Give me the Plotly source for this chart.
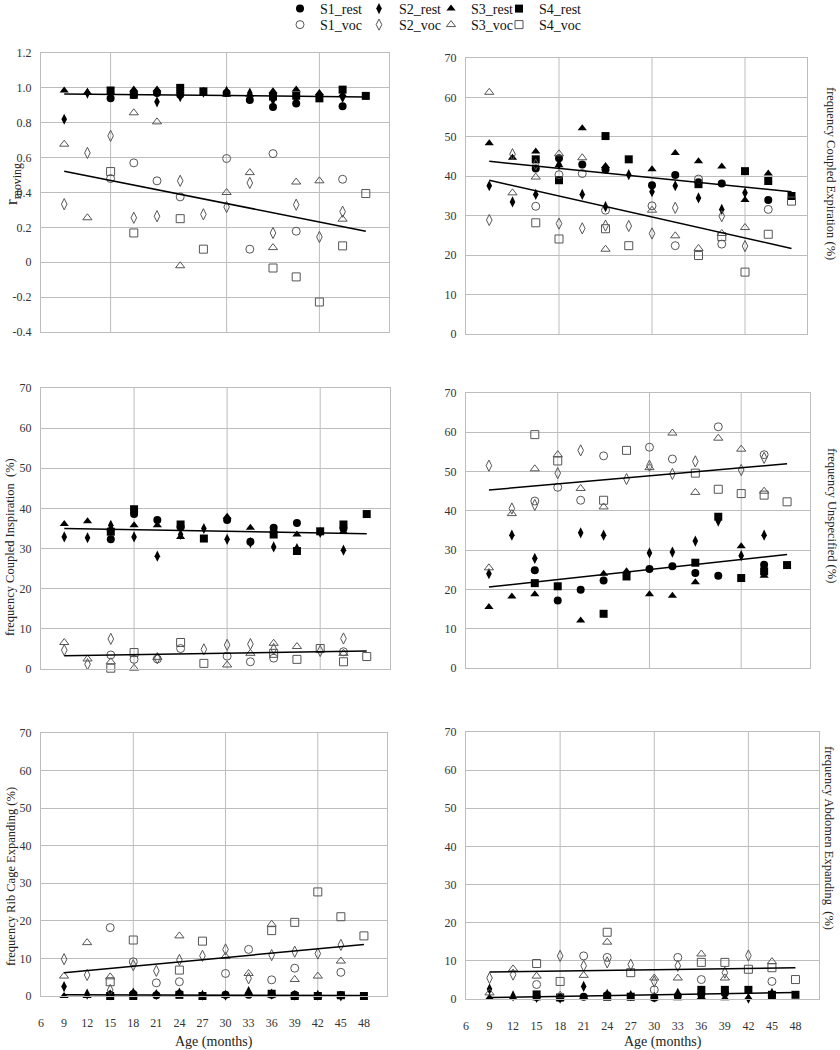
import plotly.graph_objects as go
from plotly.subplots import make_subplots

N = None
AGES = [9, 12, 15, 18, 21, 24, 27, 30, 33, 36, 39, 42, 45, 48]
AGE_TICKS = [6, 9, 12, 15, 18, 21, 24, 27, 30, 33, 36, 39, 42, 45, 48]
TREND_AGES = [9, 48]
SUBJECTS = ["S1", "S2", "S3", "S4"]

# r moving (top left)
rmov_s1_rest = [N, N, .94, .96, .97, .96, N, .97, .93, .89, .91, N, .895, N]
rmov_s2_rest = [.82, .97, .96, .97, .92, .95, .975, .98, .97, .93, .94, .95, .945, N]
rmov_s3_rest = [.985, .975, .97, .99, .99, .98, N, .96, .96, .98, .99, .97, .96, N]
rmov_s4_rest = [N, N, .985, .96, N, 1.0, .98, N, N, .95, .955, .94, .99, .954]
rmov_s1_voc = [N, N, .48, .57, .467, .375, N, .595, .075, .623, .178, N, .476, N]
rmov_s2_voc = [.333, .627, .725, .255, .264, .467, .275, .317, .455, .168, .33, .145, .29, N]
rmov_s3_voc = [.677, .255, N, .857, .805, -.02, N, .40, .514, .084, .46, .467, .247, N]
rmov_s4_voc = [N, N, .52, .168, N, .25, .075, N, N, -.033, -.084, -.228, .094, .394]
rmov_trend_rest = [.965, .948]
rmov_trend_voc = [.522, .178]

# coupled expiration (top right)
exp_s1_rest = [N, N, 42.0, 44.6, 43.0, 41.7, N, 37.7, 40.3, 38.5, 38.2, N, 34.0, N]
exp_s2_rest = [37.6, 33.5, 35.4, 43.0, 35.4, 32.3, 40.4, 36.1, 37.6, 34.5, 31.6, 35.8, N, N]
exp_s3_rest = [48.4, 44.7, 46.3, 42.8, 52.2, 42.6, N, 41.8, 45.9, 43.8, 42.5, 34.0, 40.7, N]
exp_s4_rest = [N, N, 44.3, 39.0, N, 50.2, 44.3, N, N, 38.0, N, 41.3, 38.8, 35.0]
exp_s1_voc = [N, N, 32.4, 40.4, 40.7, 31.4, N, 32.5, 22.4, 39.3, 22.8, N, 31.6, N]
exp_s2_voc = [28.9, 45.6, 43.0, 28.0, 26.8, 27.5, 27.4, 25.5, 32.0, N, 29.9, 22.3, N, N]
exp_s3_voc = [61.3, 35.8, 39.8, 45.7, 44.7, 21.5, N, 31.4, 24.9, 21.7, 25.5, 27.0, N, N]
exp_s4_voc = [N, N, 28.2, 24.1, N, 26.7, 22.4, N, N, 19.9, 24.7, 15.7, 25.3, 33.7]
exp_trend_rest = [43.8, 36.1]
exp_trend_voc = [39.0, 21.7]

# coupled inspiration (middle left)
insp_s1_rest = [N, N, 32.3, 38.6, 37.1, 35.4, N, 37.1, 31.7, 35.2, 36.4, N, 35.0, N]
insp_s2_rest = [32.9, 32.7, 35.8, 32.9, 28.1, 33.5, 35.0, 32.3, 31.5, 30.4, 30.0, 34.0, 29.6, N]
insp_s3_rest = [36.1, 36.8, 35.0, 35.8, 35.8, 32.9, N, 37.9, 35.2, 34.5, 33.5, N, 34.2, N]
insp_s4_rest = [N, N, 34.2, 39.8, N, 36.0, 32.5, N, N, 33.5, 29.4, 34.3, 36.0, 38.6]
insp_s1_voc = [N, N, 3.5, 2.4, 2.5, 5.1, N, 3.2, 1.8, 2.7, N, N, 4.3, N]
insp_s2_voc = [4.7, 1.2, 7.5, N, 2.7, N, 4.9, 6.0, 6.2, 5.0, N, 4.5, 7.6, N]
insp_s3_voc = [6.6, 2.5, 1.8, 0.2, 2.9, N, N, 1.0, 3.9, 6.4, 5.6, N, 3.9, N]
insp_s4_voc = [N, N, 0.2, 4.1, N, 6.6, 1.4, N, N, 3.9, 2.4, 5.1, 1.8, 3.1]
insp_trend_rest = [35.0, 33.7]
insp_trend_voc = [3.3, 4.5]

# unspecified (middle right)
unsp_s1_rest = [N, N, 24.9, 17.2, 19.9, 22.3, N, 25.2, 25.9, 24.2, 23.5, N, 26.3, N]
unsp_s2_rest = [24.0, 33.8, 27.9, N, 34.4, 33.8, N, 29.3, 29.5, 32.3, 37.4, 28.6, 33.8, N]
unsp_s3_rest = [15.5, 18.2, 18.8, N, 12.1, 24.0, 24.6, 18.8, 18.4, 21.8, N, 31.0, 23.5, N]
unsp_s4_rest = [N, N, 21.6, 20.8, N, 13.8, 23.3, N, N, 26.8, 38.5, 22.9, 24.6, 26.2]
unsp_s1_voc = [N, N, 42.5, 46.0, 42.7, 54.0, N, 56.2, 53.2, N, 61.4, N, 54.3, N]
unsp_s2_voc = [51.5, 40.6, 41.5, 49.6, 55.4, N, 48.1, 51.5, 49.4, 52.6, N, 50.4, 53.5, N]
unsp_s3_voc = [25.5, 39.3, 50.7, 54.3, 45.7, 41.0, N, 51.0, 59.8, 44.7, 58.5, 55.7, 45.0, N]
unsp_s4_voc = [N, N, 59.4, 52.7, N, 42.7, 55.4, N, N, 49.6, 45.5, 44.4, 44.0, 42.3]
unsp_trend_rest = [20.6, 28.9]
unsp_trend_voc = [45.3, 52.0]

# rib cage expanding (bottom left)
rib_s1_rest = [N, N, 0.3, 0.5, 0.2, 0.5, N, 0.3, 0.3, 0.3, 0.3, N, 0.2, N]
rib_s2_rest = [2.5, 0.5, 0.3, 0.8, 0.4, 0.8, 0.2, 0.2, 1.2, 0.5, 0.2, 0.2, 0.0, N]
rib_s3_rest = [0.0, 0.0, 0.5, 0.2, 0.5, 0.3, N, 0.0, 0.8, 0.2, 0.0, 0.0, 0.0, N]
rib_s4_rest = [N, N, 0.0, 0.0, N, 0.3, 0.0, N, N, 0.6, 0.0, 0.0, 0.2, 0.0]
rib_s1_voc = [N, N, 18.2, 9.1, 3.5, 3.8, N, 6.0, 12.4, 4.3, 7.4, N, 6.3, N]
rib_s2_voc = [9.8, 5.6, 1.6, 8.2, 6.7, 9.6, 10.7, 12.4, 4.7, 10.9, 11.8, 11.3, 13.6, N]
rib_s3_voc = [5.3, 14.2, 5.1, N, N, 16.0, N, 10.5, 6.0, 19.1, 4.4, 5.3, 9.3, N]
rib_s4_voc = [N, N, 3.8, 14.9, N, 6.9, 14.6, N, N, 17.4, 19.6, 27.7, 21.1, 16.0]
rib_trend_rest = [0.3, 0.1]
rib_trend_voc = [6.2, 13.7]

# abdomen expanding (bottom right)
abd_s1_rest = [N, N, 0.5, 0.3, 0.6, 1.0, N, 0.3, 0.8, 1.2, 1.5, N, 1.0, N]
abd_s2_rest = [2.6, 0.8, 0.4, 0.2, 3.3, 1.2, 0.9, 0.5, 1.5, 2.0, 1.8, 0.2, 1.5, N]
abd_s3_rest = [0.3, 0.3, 0.2, 0.2, 0.5, 0.4, N, 0.2, 0.2, 0.5, 0.2, 0.3, 0.3, N]
abd_s4_rest = [N, N, 1.2, 0.4, N, 0.6, 0.6, N, N, 2.4, 2.4, 2.4, 1.1, 1.1]
abd_s1_voc = [N, N, 3.8, N, 11.3, 10.9, N, 2.4, 10.9, 5.1, N, N, 4.6, N]
abd_s2_voc = [5.5, 6.4, N, 11.3, 8.7, 9.6, 9.0, 4.6, 8.7, N, 6.9, 11.4, N, N]
abd_s3_voc = [1.6, 7.9, 6.0, 1.0, 6.2, 14.9, N, 5.5, 5.5, 11.8, 5.5, N, 9.8, N]
abd_s4_voc = [N, N, 9.3, 4.6, N, 17.5, 6.9, N, N, 9.6, 9.6, 7.8, 8.2, 5.1]
abd_trend_rest = [0.4, 1.7]
abd_trend_voc = [7.1, 8.2]

FONT = "Liberation Serif"
GRID = "#bdbdbd"
FILLED = ["circle", "diamond-tall", "triangle-up", "square"]
OPEN = ["circle-open", "diamond-tall-open", "triangle-up-open", "square-open"]

panels = [
    dict(row=1, col=1,
         rest=[rmov_s1_rest, rmov_s2_rest, rmov_s3_rest, rmov_s4_rest],
         voc=[rmov_s1_voc, rmov_s2_voc, rmov_s3_voc, rmov_s4_voc],
         trend=(rmov_trend_rest, rmov_trend_voc), grid=[15, 30, 42],
         dom=([41, 389], [53, 332]), xmax=51),
    dict(row=1, col=2,
         rest=[exp_s1_rest, exp_s2_rest, exp_s3_rest, exp_s4_rest],
         voc=[exp_s1_voc, exp_s2_voc, exp_s3_voc, exp_s4_voc],
         trend=(exp_trend_rest, exp_trend_voc), grid=[18, 30, 42],
         dom=([466, 807], [58, 334]), xmax=50),
    dict(row=2, col=1,
         rest=[insp_s1_rest, insp_s2_rest, insp_s3_rest, insp_s4_rest],
         voc=[insp_s1_voc, insp_s2_voc, insp_s3_voc, insp_s4_voc],
         trend=(insp_trend_rest, insp_trend_voc), grid=[18, 30, 42],
         dom=([41, 390], [388, 669]), xmax=51),
    dict(row=2, col=2,
         rest=[unsp_s1_rest, unsp_s2_rest, unsp_s3_rest, unsp_s4_rest],
         voc=[unsp_s1_voc, unsp_s2_voc, unsp_s3_voc, unsp_s4_voc],
         trend=(unsp_trend_rest, unsp_trend_voc), grid=[18, 30, 42],
         dom=([466, 810], [393, 668]), xmax=51),
    dict(row=3, col=1,
         rest=[rib_s1_rest, rib_s2_rest, rib_s3_rest, rib_s4_rest],
         voc=[rib_s1_voc, rib_s2_voc, rib_s3_voc, rib_s4_voc],
         trend=(rib_trend_rest, rib_trend_voc), grid=[18, 30, 42],
         dom=([41, 387], [733, 996]), xmax=51),
    dict(row=3, col=2,
         rest=[abd_s1_rest, abd_s2_rest, abd_s3_rest, abd_s4_rest],
         voc=[abd_s1_voc, abd_s2_voc, abd_s3_voc, abd_s4_voc],
         trend=(abd_trend_rest, abd_trend_voc), grid=[18, 30, 42],
         dom=([466, 819], [732, 999]), xmax=51),
]

W, H = 840, 1050
# one small legend per entry so the 4x2 key can be laid out like the original
LEGEND_COL_PX = [280, 359, 431, 499]
LEGEND_ROW_TOP_PX = [-7, 9]


def legend_id(row, k):
    n = row * 4 + k + 1
    return "legend" if n == 1 else "legend%d" % n


fig = make_subplots(rows=3, cols=2)

for i, p in enumerate(panels):
    r, c = p["row"], p["col"]
    first = i == 0
    for k, s in enumerate(SUBJECTS):
        fig.add_trace(go.Scatter(
            x=AGES, y=p["rest"][k], mode="markers", name=s + "_rest",
            marker=dict(symbol=FILLED[k], size=8, color="black"),
            showlegend=first, legend=legend_id(0, k), cliponaxis=False,
        ), row=r, col=c)
    for k, s in enumerate(SUBJECTS):
        fig.add_trace(go.Scatter(
            x=AGES, y=p["voc"][k], mode="markers", name=s + "_voc",
            marker=dict(symbol=OPEN[k], size=8, color="#555",
                        line=dict(width=1, color="#555")),
            showlegend=first, legend=legend_id(1, k), cliponaxis=False,
        ), row=r, col=c)
    for tr in p["trend"]:
        fig.add_trace(go.Scatter(
            x=TREND_AGES, y=tr, mode="lines", showlegend=False,
            line=dict(color="black", width=1.5), hoverinfo="skip",
        ), row=r, col=c)
    for gx in p["grid"]:
        fig.add_vline(x=gx, row=r, col=c, line=dict(color=GRID, width=1), layer="below")

    (x0, x1), (y0, y1) = p["dom"]
    fig.update_xaxes(
        domain=[x0 / W, x1 / W], range=[6, p["xmax"]],
        showgrid=False, zeroline=False, showline=True, mirror=True,
        linecolor=GRID, linewidth=1, ticks="",
        tickvals=AGE_TICKS, showticklabels=(r == 3),
        ticklabelstandoff=16, automargin=False,
        tickfont=dict(family=FONT, size=12, color="#333"),
        row=r, col=c)
    yopts = dict(
        domain=[1 - y1 / H, 1 - y0 / H],
        showgrid=True, gridcolor=GRID, gridwidth=1, zeroline=False,
        showline=True, mirror=True, linecolor=GRID, linewidth=1, ticks="",
        ticklabelstandoff=6, automargin=False,
        tickfont=dict(family=FONT, size=12, color="#333"))
    if first:
        yopts.update(range=[-0.4, 1.2],
                     tickvals=[-0.4, -0.2, 0, 0.2, 0.4, 0.6, 0.8, 1.0, 1.2],
                     ticktext=["-0.4", "-0.2", "0", "0.2", "0.4", "0.6", "0.8", "1.0", "1.2"])
    else:
        yopts.update(range=[0, 70], tickvals=[0, 10, 20, 30, 40, 50, 60, 70])
    fig.update_yaxes(**yopts, row=r, col=c)

ytitle_font = dict(family=FONT, size=12.5, color="#222")
side_titles = [
    ("frequency Coupled Inspiration  (%)", 10, 547, -90),
    ("frequency Rib Cage Expanding (%)", 11, 877, -90),
    ("frequency Coupled Expiration (%)", 831, 173, 90),
    ("frequency Unspecified (%)", 832, 515, 90),
    ("frequency Abdomen Expanding  (%)", 829, 838, 90),
]
for text, px, py, ang in side_titles:
    fig.add_annotation(text=text, x=px / W, y=1 - py / H, xref="paper", yref="paper",
                       xanchor="center", yanchor="middle", showarrow=False,
                       textangle=ang, font=ytitle_font)
for px in (214, 663):
    fig.add_annotation(text="Age (months)", x=px / W, y=1 - 1042 / H,
                       xref="paper", yref="paper", xanchor="center", yanchor="middle",
                       showarrow=False, font=dict(family=FONT, size=14, color="#222"))
fig.add_annotation(text="r<sub>moving</sub>", x=13 / W, y=1 - 184 / H,
                   xref="paper", yref="paper", xanchor="center", yanchor="middle",
                   showarrow=False, textangle=-90,
                   font=dict(family=FONT, size=17, color="#222"))

legends = {}
for row, top in enumerate(LEGEND_ROW_TOP_PX):
    for k, left in enumerate(LEGEND_COL_PX):
        legends[legend_id(row, k)] = dict(
            x=left / W, y=1 - top / H, xanchor="left", yanchor="top",
            orientation="v", bgcolor="rgba(0,0,0,0)", itemwidth=30,
            font=dict(family=FONT, size=14, color="#111"))

fig.update_layout(
    width=W, height=H,
    margin=dict(l=0, r=0, t=0, b=0, autoexpand=False),
    paper_bgcolor="white", plot_bgcolor="white",
    font=dict(family=FONT),
    **legends,
)

# drop the default 8px page margin so the figure sits flush in the window
fig.write_html("out.html", config={"displayModeBar": False},
               post_script="document.body.style.margin='0';")
